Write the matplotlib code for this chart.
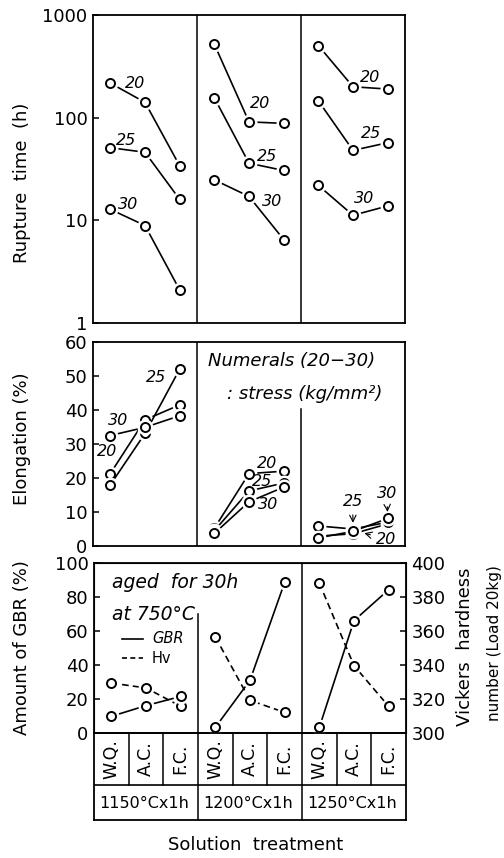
import matplotlib.pyplot as plt
import numpy as np

# solution treatment groups and cooling modes
groups = ["1150°Cx1h", "1200°Cx1h", "1250°Cx1h"]
coolings = ["W.Q.", "A.C.", "F.C."]
stresses = ["20", "25", "30"]

# rupture time (h), per stress, 9 values (3 groups x W.Q./A.C./F.C.)
rupture = {
    "20": [217, 141, 34, 519, 91, 88, 504, 200, 190],
    "25": [51, 46, 16, 156, 36, 30.6, 146, 48, 57],
    "30": [12.8, 8.9, 2.1, 24.8, 17.1, 6.5, 21.9, 11.2, 13.8],
}

# elongation (%)
elong = {
    "20": [21.3, 37.1, 41.5, 5.2, 21.3, 22.0, 2.9, 3.6, 6.5],
    "25": [18.0, 33.1, 52.0, 4.5, 16.2, 18.5, 5.9, 5.0, 7.0],
    "30": [32.5, 34.9, 38.3, 3.7, 13.0, 17.3, 2.4, 4.3, 8.1],
}

# amount of GBR (%) and Vickers hardness
gbr = [9.8, 16.1, 21.5, 3.3, 31.0, 88.6, 3.3, 66.1, 84.3]
hv = [329.4, 326.5, 315.7, 356.5, 319.2, 312.1, 388.2, 339.6, 315.7]

# label positions for stress numerals (x, y)
rupture_lbl = {
    "20": [(1.21, 214), (4.82, 137), (7.98, 246)],
    "25": [(0.95, 60), (5.03, 42), (8.01, 69.5)],
    "30": [(1.0, 14.3), (5.18, 15.4), (7.83, 16.3)],
}
elong_lbl = {
    "20": [(0.42, 27.8), (5.01, 24.2)],
    "25": [(1.81, 49.5), (4.87, 19.1)],
    "30": [(0.72, 36.8), (5.05, 12.2)],
}

W, H = 504, 858
LW = 1.2
MS = 6.5


def rect(left, top, right, bottom):
    return [left / W, 1 - bottom / H, (right - left) / W, (bottom - top) / H]


def marks(ax, x, y, ls="-"):
    # line first, then a white blob so the line stops short of each circle
    ax.plot(x, y, color="black", lw=LW, ls=ls, dashes=(4, 2.5) if ls == "--" else (None, None))
    ax.plot(x, y, ls="none", marker="o", ms=MS + 4, mfc="white", mec="white")
    ax.plot(x, y, ls="none", marker="o", ms=MS, mfc="white", mec="black", mew=1.4)


def style(ax):
    for s in ax.spines.values():
        s.set_linewidth(1.3)
    ax.tick_params(direction="in", length=4, width=1.1, labelsize=13, pad=4)
    ax.set_xlim(0, 9)
    ax.set_xticks([])


xs = np.arange(9) + 0.5

fig = plt.figure(figsize=(W / 100, H / 100), dpi=100)

# ---- rupture time
ax1 = fig.add_axes(rect(93, 15, 405, 323))
style(ax1)
ax1.set_yscale("log")
ax1.set_ylim(1, 1000)
ax1.set_yticks([1, 10, 100, 1000])
ax1.set_yticklabels(["1", "10", "100", "1000"])
ax1.minorticks_off()
for k in stresses:
    for g in range(3):
        marks(ax1, xs[3 * g:3 * g + 3], rupture[k][3 * g:3 * g + 3])
    for (tx, ty) in rupture_lbl[k]:
        ax1.text(tx, ty, k, ha="center", va="center", fontsize=11.5, style="italic")
for d in [3, 6]:
    ax1.axvline(d, color="black", lw=1.1)

# ---- elongation
ax2 = fig.add_axes(rect(93, 342, 405, 546))
style(ax2)
ax2.set_ylim(0, 60)
ax2.set_yticks(range(0, 61, 10))
for k in stresses:
    for g in range(3):
        marks(ax2, xs[3 * g:3 * g + 3], elong[k][3 * g:3 * g + 3])
    for (tx, ty) in elong_lbl[k]:
        ax2.text(tx, ty, k, ha="center", va="center", fontsize=11.5, style="italic")
ax2.axvline(3, color="black", lw=1.1)
ax2.axvline(6, ymax=0.67, color="black", lw=1.1)
ax2.annotate("25", xy=(7.5, 6.0), xytext=(7.49, 13.0), ha="center", va="center",
             fontsize=11.5, style="italic", arrowprops=dict(arrowstyle="->", lw=0.8))
ax2.annotate("30", xy=(8.5, 9.2), xytext=(8.47, 15.4), ha="center", va="center",
             fontsize=11.5, style="italic", arrowprops=dict(arrowstyle="->", lw=0.8))
ax2.annotate("20", xy=(7.75, 4.0), xytext=(8.45, 2.0), ha="center", va="center",
             fontsize=11.5, style="italic", arrowprops=dict(arrowstyle="->", lw=0.8))
ax2.text(3.32, 54.4, "Numerals (20\u221230)", ha="left", va="center", fontsize=13, style="italic")
ax2.text(3.87, 44.7, ": stress (kg/mm²)", ha="left", va="center", fontsize=13, style="italic")

# ---- GBR / hardness
ax3 = fig.add_axes(rect(94, 563, 406, 733))
style(ax3)
ax3.set_ylim(0, 100)
ax3.set_yticks(range(0, 101, 20))
ax3r = ax3.twinx()
ax3r.set_ylim(300, 400)
ax3r.set_yticks(range(300, 401, 20))
ax3r.tick_params(direction="in", length=4, width=1.1, labelsize=13, pad=4)
for g in range(3):
    marks(ax3r, xs[3 * g:3 * g + 3], hv[3 * g:3 * g + 3], ls="--")
    marks(ax3, xs[3 * g:3 * g + 3], gbr[3 * g:3 * g + 3])
ax3.set_zorder(ax3r.get_zorder() + 1)
ax3.patch.set_visible(False)
ax3.axvline(3, ymax=0.70, color="black", lw=1.1)
ax3.axvline(6, color="black", lw=1.1)
ax3.text(0.52, 88.4, "aged  for 30h", ha="left", va="center", fontsize=13.5, style="italic")
ax3.text(0.52, 70, "at 750°C", ha="left", va="center", fontsize=13.5, style="italic")
ax3.plot([0.81, 1.41], [55.3, 55.3], color="black", lw=1.2)
ax3.text(1.67, 55.3, "GBR", ha="left", va="center", fontsize=10.5, style="italic")
ax3.plot([0.81, 1.41], [44.1, 44.1], color="black", lw=1.2, ls="--", dashes=(3, 2))
ax3.text(1.67, 44.1, "Hv", ha="left", va="center", fontsize=10.5)

# ---- treatment table under the bottom panel
ax4 = fig.add_axes(rect(94, 733, 406, 820))
ax4.set_xlim(0, 9)
ax4.set_ylim(0, 87)
ax4.set_xticks([])
ax4.set_yticks([])
for s in ax4.spines.values():
    s.set_linewidth(1.3)
ax4.axhline(35, color="black", lw=1.2)
for i in range(1, 9):
    ax4.plot([i, i], [35 if i % 3 else 0, 87], color="black", lw=1.1)
for i in range(9):
    ax4.text(i + 0.5, 61, coolings[i % 3], rotation=90, ha="center", va="center", fontsize=12.5)
for g in range(3):
    ax4.text(3 * g + 1.45, 17, groups[g], ha="center", va="center", fontsize=11.5)

# axis labels
fig.text(22 / W, 1 - 183 / H, "Rupture  time  (h)", rotation=90, ha="center", va="center", fontsize=13)
fig.text(22 / W, 1 - 439 / H, "Elongation (%)", rotation=90, ha="center", va="center", fontsize=13)
fig.text(22 / W, 1 - 648 / H, "Amount of GBR (%)", rotation=90, ha="center", va="center", fontsize=13)
fig.text(465 / W, 1 - 647 / H, "Vickers  hardness", rotation=90, ha="center", va="center", fontsize=13)
fig.text(495 / W, 1 - 643 / H, "number (Load 20kg)", rotation=90, ha="center", va="center", fontsize=11)
fig.text(256 / W, 1 - 845 / H, "Solution  treatment", ha="center", va="center", fontsize=13)

plt.savefig("out.png", dpi=100)
